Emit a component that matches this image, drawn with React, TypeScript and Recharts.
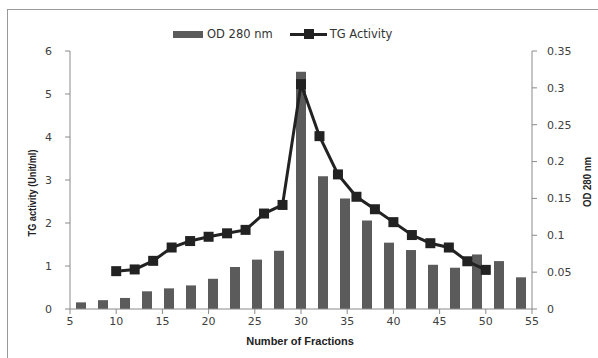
import { ComposedChart, Bar, Line, XAxis, YAxis, Label } from "recharts";

// bar slots on the hidden category axis (Excel draws them across the full width)
const barSlots = ["1", "2", "3", "4", "5", "6", "7", "8", "9", "10", "11", "12", "13", "14", "15", "16", "17", "18", "19", "20", "21"];
const odValues = [0.009, 0.012, 0.015, 0.024, 0.028, 0.032, 0.041, 0.057, 0.067, 0.079, 0.322, 0.18, 0.15, 0.12, 0.09, 0.08, 0.06, 0.056, 0.074, 0.065, 0.043];

const tgFractions = [10, 12, 14, 16, 18, 20, 22, 24, 26, 28, 30, 32, 34, 36, 38, 40, 42, 44, 46, 48, 50];
const tgValues = [0.88, 0.92, 1.12, 1.43, 1.58, 1.68, 1.76, 1.84, 2.22, 2.42, 5.23, 4.02, 3.13, 2.61, 2.32, 2.02, 1.72, 1.53, 1.43, 1.11, 0.91];

const xTicks = [5, 10, 15, 20, 25, 30, 35, 40, 45, 50, 55];
const tgTicks = [0, 1, 2, 3, 4, 5, 6];
const odTicks = [0, 0.05, 0.1, 0.15, 0.2, 0.25, 0.3, 0.35];

const barData = barSlots.map((s, i) => ({ slot: s, od: odValues[i] }));
const lineData = tgFractions.map((f, i) => ({ fraction: f, tg: tgValues[i] }));

const axisColor = "#8a8a8a";
const tickStyle = { fill: "#404040", fontSize: 11, fontFamily: "DejaVu Sans" };
const titleFont = "Liberation Sans";

const SquareDot = (props: any) => {
  const { cx, cy, index } = props;
  if (cx == null || cy == null) return null;
  return <rect key={index} x={cx - 5} y={cy - 5} width={10} height={10} fill="#222" />;
};

export default function App() {
  return (
    <div style={{ position: "absolute", left: 0, top: 0, width: 598, height: 358, background: "#fff", overflow: "hidden" }}>
      <div style={{ position: "absolute", left: 7, top: 9, width: 600, height: 360, border: "1px solid #999" }} />
      <div
        style={{
          position: "absolute",
          left: 173,
          top: 27,
          display: "flex",
          alignItems: "center",
          fontFamily: "DejaVu Sans",
          fontSize: 11.5,
          color: "#333",
        }}
      >
        <span style={{ display: "inline-block", width: 30, height: 7, background: "#5b5b5b", marginRight: 4 }} />
        <span>OD 280 nm</span>
        <span style={{ position: "relative", display: "inline-block", width: 37, height: 10, marginLeft: 17, marginRight: 3 }}>
          <span style={{ position: "absolute", left: 0, top: 4, width: 37, height: 3, background: "#222" }} />
          <span style={{ position: "absolute", left: 14, top: 0, width: 10, height: 10, background: "#222" }} />
        </span>
        <span>TG Activity</span>
      </div>
      <div style={{ position: "absolute", left: 0, top: 0 }}>
        <ComposedChart width={598} height={358} data={barData} margin={{ top: 51, right: 26, bottom: 19, left: 30 }}>
          <XAxis
            xAxisId="num"
            dataKey="fraction"
            type="number"
            domain={[5, 55]}
            ticks={xTicks}
            allowDataOverflow
            height={30}
            stroke={axisColor}
            tick={tickStyle}
            tickSize={5}
            tickMargin={3}
          >
            <Label
              content={() => (
                <text x={300} y={345} textAnchor="middle" fontFamily={titleFont} fontWeight="bold" fontSize={11} fill="#222">
                  Number of Fractions
                </text>
              )}
            />
          </XAxis>
          <XAxis xAxisId="cat" dataKey="slot" type="category" hide height={0} />
          <YAxis
            yAxisId="tg"
            domain={[0, 6]}
            ticks={tgTicks}
            width={40}
            stroke={axisColor}
            tick={tickStyle}
            tickSize={5}
            tickMargin={13}
          >
            <Label
              content={() => (
                <text
                  x={0}
                  y={0}
                  transform="translate(36,193) rotate(-90)"
                  textAnchor="middle"
                  fontFamily={titleFont}
                  fontWeight="bold"
                  fontSize={10}
                  textLength={87}
                  lengthAdjust="spacingAndGlyphs"
                  fill="#222"
                >
                  TG activity (Unit/ml)
                </text>
              )}
            />
          </YAxis>
          <YAxis
            yAxisId="od"
            orientation="right"
            domain={[0, 0.35]}
            ticks={odTicks}
            width={40}
            stroke={axisColor}
            tick={tickStyle}
            tickSize={5}
            tickMargin={10}
          >
            <Label
              content={() => (
                <text
                  x={0}
                  y={0}
                  transform="translate(591,182) rotate(-90)"
                  textAnchor="middle"
                  fontFamily={titleFont}
                  fontWeight="bold"
                  fontSize={10}
                  textLength={50}
                  lengthAdjust="spacingAndGlyphs"
                  fill="#222"
                >
                  OD 280 nm
                </text>
              )}
            />
          </YAxis>
          <Bar xAxisId="cat" yAxisId="od" dataKey="od" fill="#5b5b5b" barSize={10} isAnimationActive={false} />
          <Line
            xAxisId="num"
            yAxisId="tg"
            data={lineData}
            dataKey="tg"
            type="linear"
            stroke="#222"
            strokeWidth={3}
            dot={SquareDot}
            activeDot={false}
            isAnimationActive={false}
          />
        </ComposedChart>
      </div>
    </div>
  );
}
